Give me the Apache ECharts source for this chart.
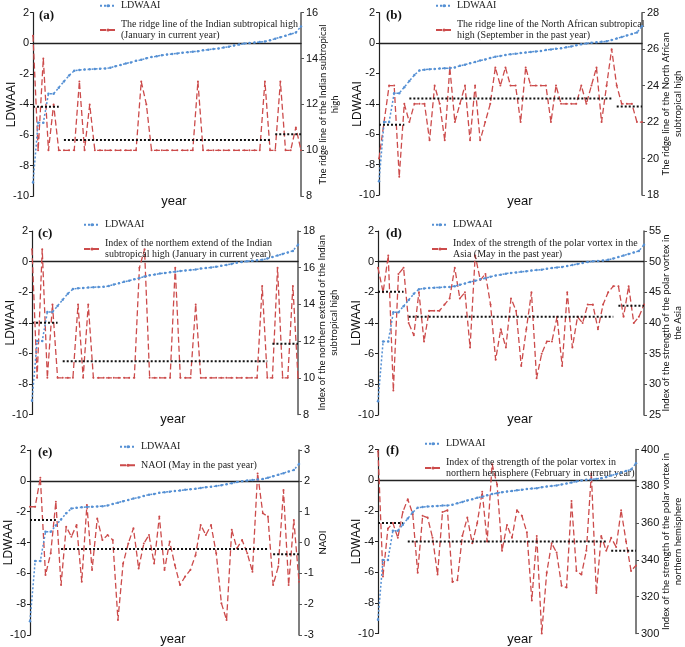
<!DOCTYPE html>
<html>
<head>
<meta charset="utf-8">
<script src="https://cdn.jsdelivr.net/npm/echarts@6/dist/echarts.min.js"></script>
<style>
  html, body { margin: 0; padding: 0; background: #fff; }
  #chart { width: 685px; height: 647px; }
</style>
</head>
<body>
<div id="chart"></div>
<script>
// ranks (years sorted by LDWAAI)
const ranks = Array.from({ length: 53 }, (_, i) => String(i + 1));

// LDWAAI, sorted ascending (same in every panel)
const ldwaai = [-9.1, -5.2, -5.2, -3.3, -3.3, -2.9, -2.5, -2.1, -1.8, -1.75,
  -1.72, -1.7, -1.68, -1.66, -1.65, -1.6, -1.5, -1.42, -1.32, -1.25,
  -1.15, -1.08, -0.98, -0.9, -0.85, -0.78, -0.74, -0.7, -0.66, -0.62,
  -0.58, -0.55, -0.52, -0.46, -0.42, -0.38, -0.34, -0.28, -0.22, -0.15,
  -0.08, -0.02, 0.02, 0.05, 0.08, 0.12, 0.2, 0.3, 0.4, 0.5,
  0.6, 0.7, 1.1];

// red series, one per panel
const redA = [15, 10, 14, 10, 12, 10, 10, 10, 10, 13,
  10, 12, 10, 10, 10, 10, 10, 10, 10, 10,
  10, 13, 12, 10, 10, 10, 10, 10, 10, 10,
  10, 10, 13, 10, 10, 10, 10, 10, 10, 10,
  10, 10, 10, 10, 10, 13, 10, 10, 13, 10,
  10, 11, 10];
const redB = [20, 22, 24, 24, 19, 23, 22, 23, 23, 23,
  21, 24, 23, 21, 25, 22, 23, 24, 21, 24,
  21, 22, 23, 25, 24, 25, 24, 24, 22, 25,
  24, 24, 24, 24, 22, 24, 23, 23, 23, 23,
  24, 23, 24, 25, 22, 24, 26, 24, 23, 23,
  23, 22, 22];
const redC = [17, 10, 17, 10, 14, 10, 10, 10, 10, 14,
  10, 14, 10, 10, 10, 10, 10, 10, 10, 10,
  10, 16, 17, 10, 10, 10, 10, 10, 16, 10,
  10, 10, 14, 10, 10, 10, 10, 10, 10, 10,
  10, 10, 10, 10, 10, 15, 10, 10, 16, 10,
  10, 15, 10];
const redD = [49, 45, 51, 29, 48, 49, 40, 38, 45, 37,
  42, 42, 42, 43, 44, 49, 44, 45, 36, 51,
  47, 48, 43, 34, 39, 36, 44, 42, 33, 39,
  45, 31, 35, 37, 37, 41, 33, 45, 36, 41,
  40, 43, 43, 39, 43, 45, 46, 46, 41, 46,
  40, 41, 43];
const redE = [1.16, 1.16, 2.1, -1.05, -0.35, 1.32, -1.38, 0.51, 0.19, 0.57,
  -1.27, 1.22, -0.89, 0.78, 0.08, 0.24, 0.08, -2.51, -0.68, -0.03,
  0.46, -0.84, -0.03, 0.24, -0.68, 0.84, -0.89, 0.03, -0.73, -1.38,
  -1.1, -0.89, -0.41, 0.57, 0.24, 0.57, -0.35, -1.97, -2.51, 0.41,
  -0.19, 0.08, -0.35, -0.95, 2.24, 0.95, 0.84, -1.38, -0.78, 1.7,
  -1.38, 0.73, -1.27];
const redF = [399, 331, 357, 360, 352, 366, 373, 365, 333, 364,
  363, 352, 332, 366, 367, 328, 329, 353, 363, 349,
  360, 377, 350, 392, 381, 345, 359, 352, 367, 364,
  355, 318, 353, 300, 333, 349, 344, 326, 325, 372,
  334, 332, 345, 387, 322, 353, 345, 352, 347, 367,
  350, 334, 337];

// regime means: [first rank, last rank, value]
const segA = [[0, 5, 11.9], [6, 46, 10.45], [47, 52, 10.7]];
const segB = [[0, 5, 21.85], [6, 46, 23.3], [47, 52, 22.85]];
const segC = [[0, 5, 13.0], [6, 46, 10.9], [47, 52, 11.85]];
const segD = [[0, 5, 45.1], [6, 46, 41], [47, 52, 42.8]];
const segE = [[0, 5, 0.73], [6, 46, -0.21], [47, 52, -0.38]];
const segF = [[0, 5, 360], [6, 46, 350], [47, 52, 345]];

// left axis ticks
const leftMin = -10, leftMax = 2, leftStep = 2;

const panels = [
  { tag: '(a)', red: redA, seg: segA, rMin: 8, rMax: 16, rStep: 2,
    rName: 'The ridge line of the Indian subtropical\nhigh', rGap: 16,
    lName: 'The ridge line of the Indian subtropical high\n(January in current year)',
    grid: [33, 12.7, 268, 183.5], legend: [99, 0], tagPos: [39, 9], yearX: 174, yearY: 195 },
  { tag: '(b)', red: redB, seg: segB, rMin: 18, rMax: 28, rStep: 2,
    rName: 'The ridge line of the North African\nsubtropical high', rGap: 18,
    lName: 'The ridge line of the North African subtropical\nhigh (September in the past year)',
    grid: [379, 12.7, 265, 182.3], legend: [435, 0], tagPos: [386, 9], yearX: 520, yearY: 195 },
  { tag: '(c)', red: redC, seg: segC, rMin: 8, rMax: 18, rStep: 2,
    rName: 'Index of the northern extend of the Indian\nsubtropical high', rGap: 18,
    lName: 'Index of the northem extend of the Indian\nsubtropical high (January in current year)',
    grid: [32, 231, 266, 183.5], legend: [83, 219], tagPos: [38, 227], yearX: 173, yearY: 413 },
  { tag: '(d)', red: redD, seg: segD, rMin: 25, rMax: 55, rStep: 5,
    rName: 'Index of the strength of the polar vortex in\nthe Asia', rGap: 16,
    lName: 'Index of the strength of the polar vortex in the\nAsia (May in the past year)',
    grid: [378, 231, 268, 184], legend: [431, 219], tagPos: [386, 227], yearX: 520, yearY: 413 },
  { tag: '(e)', red: redE, seg: segE, rMin: -3, rMax: 3, rStep: 1,
    rName: 'NAOI', rGap: 18,
    lName: 'NAOI (May in the past year)',
    grid: [30, 450, 269, 185], legend: [119, 441], tagPos: [38, 446], yearX: 173, yearY: 633 },
  { tag: '(f)', red: redF, seg: segF, rMin: 300, rMax: 400, rStep: 20,
    rName: 'Index of the strength of the polar vortex in\nnorthern hemisphere', rGap: 24,
    lName: 'Index of the strength of the polar vortex in\nnorthern hemisphere (February in current year)',
    grid: [378, 449.5, 260, 184], legend: [424, 438], tagPos: [386, 444], yearX: 520, yearY: 633 }
];

const blue = '#5590d4';
const red = '#cc4b4b';
const sans = 'Liberation Sans';
const narrow = '"Liberation Sans Narrow", Lato, sans-serif';
const serif = 'Liberation Serif';

const option = {
  animation: false,
  backgroundColor: '#fff',
  grid: [], xAxis: [], yAxis: [], series: [], legend: [], title: []
};

panels.forEach((p, k) => {
  option.grid.push({ left: p.grid[0], top: p.grid[1], width: p.grid[2], height: p.grid[3] });

  option.xAxis.push({
    type: 'category', gridIndex: k, data: ranks, boundaryGap: false,
    axisLine: { onZero: true, onZeroAxisIndex: 2 * k, lineStyle: { color: '#222', width: 1.3 } },
    axisTick: { show: false }, axisLabel: { show: false }, splitLine: { show: false }
  });

  option.yAxis.push({
    type: 'value', gridIndex: k, position: 'left',
    min: leftMin, max: leftMax, interval: leftStep,
    name: 'LDWAAI', nameLocation: 'middle', nameGap: 15, nameMoveOverlap: false,
    nameTextStyle: { fontFamily: sans, fontSize: 12, color: '#111' },
    axisLine: { show: true, onZero: false, lineStyle: { color: '#222', width: 1.2 } },
    axisTick: { show: true, length: 3, lineStyle: { color: '#222' } },
    axisLabel: { fontFamily: sans, fontSize: 11, color: '#111', margin: 4 },
    splitLine: { show: false }
  });

  option.yAxis.push({
    type: 'value', gridIndex: k, position: 'right',
    min: p.rMin, max: p.rMax, interval: p.rStep,
    name: p.rName, nameLocation: 'middle', nameRotate: 90, nameGap: p.rGap, nameMoveOverlap: false,
    nameTextStyle: { fontFamily: narrow, fontSize: 9.5, lineHeight: 12, color: '#111' },
    axisLine: { show: true, onZero: false, lineStyle: { color: '#555', width: 1.5 } },
    axisTick: { show: true, length: 3, lineStyle: { color: '#555' } },
    axisLabel: { fontFamily: sans, fontSize: 11, color: '#111', margin: 5 },
    splitLine: { show: false }
  });

  option.series.push({
    name: 'LDWAAI', type: 'line', xAxisIndex: k, yAxisIndex: 2 * k,
    data: ldwaai, symbol: 'circle', symbolSize: 2.5, z: 4,
    lineStyle: { color: blue, width: 1.5, type: [2, 2] },
    itemStyle: { color: blue }
  });

  option.series.push({
    name: p.lName, type: 'line', xAxisIndex: k, yAxisIndex: 2 * k + 1,
    data: p.red, symbol: 'circle', symbolSize: 2, z: 3,
    lineStyle: { color: red, width: 1.3, type: [6, 3] },
    itemStyle: { color: red }
  });

  p.seg.forEach(s => {
    const d = ranks.map((_, i) => (i >= s[0] && i <= s[1] ? s[2] : '-'));
    option.series.push({
      name: 'mean', type: 'line', xAxisIndex: k, yAxisIndex: 2 * k + 1,
      data: d, symbol: 'none', z: 5, silent: true,
      lineStyle: { color: '#111', width: 2, type: [2, 2] }
    });
  });

  option.legend.push({
    data: ['LDWAAI', p.lName], orient: 'vertical',
    left: p.legend[0], top: p.legend[1],
    itemWidth: 16, itemHeight: 4, itemGap: 7, padding: 0,
    textStyle: { fontFamily: serif, fontSize: 10, lineHeight: 11.5, color: '#222' }
  });

  option.title.push({
    text: p.tag, left: p.tagPos[0], top: p.tagPos[1], padding: 0,
    textStyle: { fontFamily: serif, fontSize: 13, fontWeight: 'bold', color: '#111' }
  });
  option.title.push({
    text: 'year', left: p.yearX, top: p.yearY, textAlign: 'center', padding: 0,
    textStyle: { fontFamily: sans, fontSize: 13, fontWeight: 'normal', color: '#111' }
  });
});

const myChart = echarts.init(document.getElementById('chart'), null, { renderer: 'canvas' });
myChart.setOption(option);
</script>
</body>
</html>
